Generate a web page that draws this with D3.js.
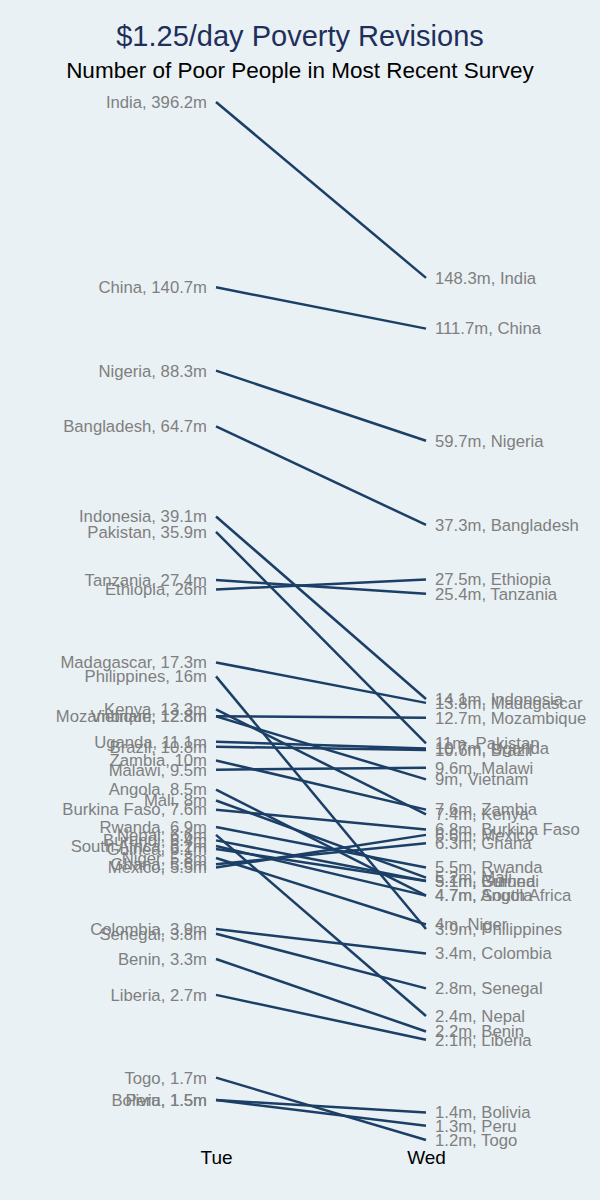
<!DOCTYPE html>
<html>
<head>
<meta charset="utf-8">
<script src="https://cdn.jsdelivr.net/npm/d3@7"></script>
<style>
  body { margin: 0; background: #e9f1f4; }
  svg { display: block; font-family: "Liberation Sans", Arial, sans-serif; }
</style>
</head>
<body>
<div id="chart"></div>
<script>
// countries and number of poor (millions), two surveys
const countries = ["India", "China", "Nigeria", "Bangladesh", "Indonesia", "Pakistan", "Tanzania", "Ethiopia",
    "Madagascar", "Philippines", "Kenya", "Mozambique", "Vietnam", "Uganda", "Brazil", "Zambia", "Malawi",
    "Angola", "Mali", "Burkina Faso", "Rwanda", "Nepal", "Burundi", "South Africa", "Guinea", "Niger",
    "Ghana", "Mexico", "Colombia", "Senegal", "Benin", "Liberia", "Togo", "Bolivia", "Peru"];
const tueValues = [396.2, 140.7, 88.3, 64.7, 39.1, 35.9, 27.4, 26, 17.3, 16, 13.3, 12.8, 12.8, 11.1, 10.8, 10, 9.5,
    8.5, 8, 7.6, 6.9, 6.6, 6.4, 6.2, 6.1, 5.8, 5.6, 5.5, 3.9, 3.8, 3.3, 2.7, 1.7, 1.5, 1.5];
const wedValues = [148.3, 111.7, 59.7, 37.3, 14.1, 11, 25.4, 27.5, 13.8, 3.9, 7.4, 12.7, 9, 10.7, 10.6, 7.6, 9.6,
    4.7, 5.2, 6.8, 5.5, 2.4, 5.1, 4.7, 5.1, 4, 6.3, 6.6, 3.4, 2.8, 2.2, 2.1, 1.2, 1.4, 1.3];
const periods = ["Tue", "Wed"];

let width = 600, height = 1200;

let svg = d3.select("#chart").append("svg")
    .attr("width", width)
    .attr("height", height)

svg.append("rect").attr("width", width).attr("height", height).attr("fill", "#e9f1f4")

let xScale = d3.scalePoint().domain(periods).range([216, 426])

let yScale = d3.scaleLog()
    .domain([1.2, 396.2])
    .range([1140, 102])

let data = countries.map(function(c, i) {
    return {name: c, tue: tueValues[i], wed: wedValues[i]};
});

svg.append("text")
    .attr("x", width / 2).attr("y", 46)
    .attr("text-anchor", "middle")
    .attr("fill", "#1f2f5c")
    .attr("style", "font-size:29px")
    .text("$1.25/day Poverty Revisions");

svg.append("text")
    .attr("x", width / 2).attr("y", 78)
    .attr("text-anchor", "middle")
    .attr("fill", "black")
    .attr("style", "font-size:22.5px")
    .text("Number of Poor People in Most Recent Survey");

svg.selectAll(".slope")
    .data(data).enter()
    .append("line")
    .attr("class", "slope")
    .attr("x1", xScale("Tue"))
    .attr("x2", xScale("Wed"))
    .attr("y1", d => yScale(d.tue))
    .attr("y2", d => yScale(d.wed))
    .attr("stroke", "#1b3f66")
    .attr("stroke-width", 2.5)

svg.selectAll(".lbl-left")
    .data(data).enter()
    .append("text")
    .attr("class", "lbl-left")
    .attr("x", xScale("Tue") - 9)
    .attr("y", d => yScale(d.tue))
    .attr("dy", "0.35em")
    .attr("text-anchor", "end")
    .attr("fill", "#7f7f7f")
    .attr("style", "font-size:16.7px")
    .text(d => d.name + ", " + d.tue + "m");

svg.selectAll(".lbl-right")
    .data(data).enter()
    .append("text")
    .attr("class", "lbl-right")
    .attr("x", xScale("Wed") + 9)
    .attr("y", d => yScale(d.wed))
    .attr("dy", "0.35em")
    .attr("fill", "#7f7f7f")
    .attr("style", "font-size:16.7px")
    .text(d => d.wed + "m, " + d.name);

// period labels along the bottom
let xAxis = svg.append("g")
    .attr("transform", "translate(0, 1145)")
    .call(d3.axisBottom(xScale).tickSize(0).tickPadding(6))

xAxis.select(".domain").remove();
xAxis.selectAll("text")
    .attr("fill", "black")
    .attr("style", "font-size:19px; font-family:'Liberation Sans', Arial, sans-serif");
</script>
</body>
</html>
